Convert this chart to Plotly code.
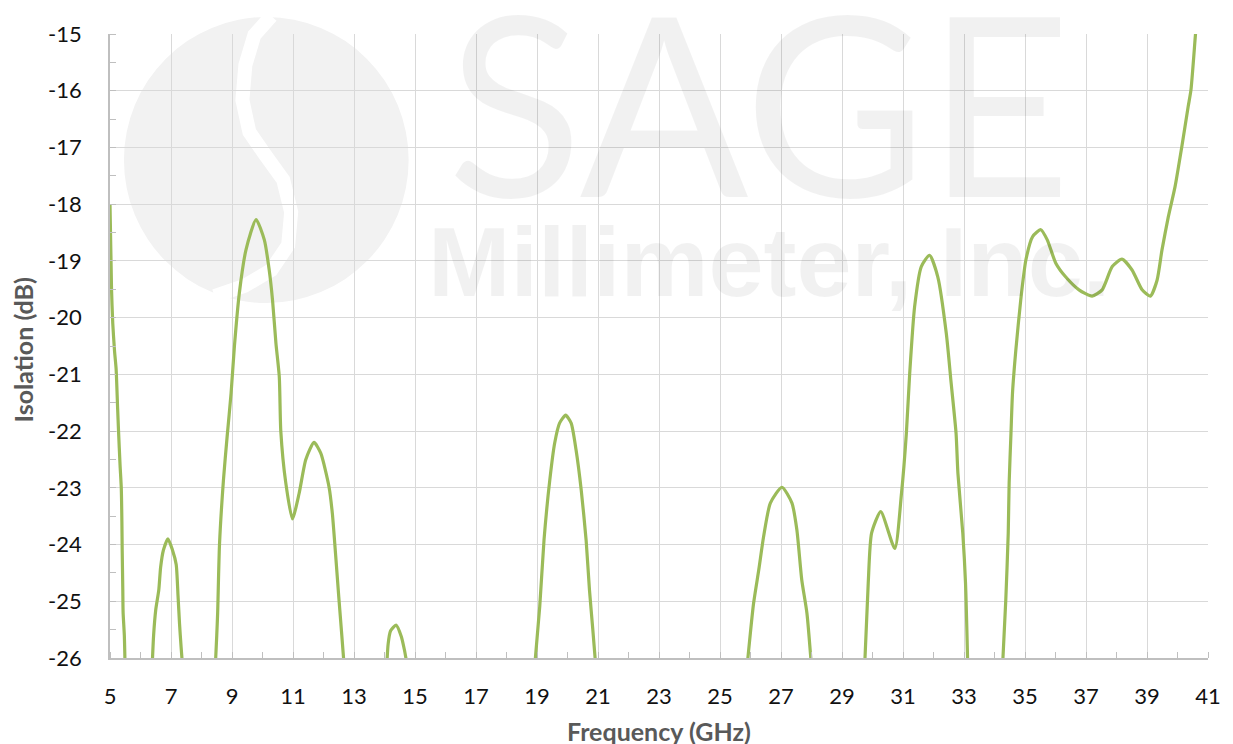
import plotly.graph_objects as go

# Measured isolation trace (None marks where the curve runs below the -26 dB floor)
freq_ghz = [
    5.0, 5.05, 5.09, 5.15, 5.2, 5.25, 5.28, 5.33, 5.37, 5.39, 5.4, 5.42, 5.43, 5.47, 5.5, None,
    6.37, 6.43, 6.5, 6.6, 6.66, 6.75, 6.9, 7.05, 7.17, 7.23, 7.28, 7.33, 7.4, None,
    8.44, 8.5, 8.53, 8.59, 8.72, 8.84, 8.97, 9.08, 9.24, 9.46, 9.79, 10.06, 10.22, 10.33, 10.44,
    10.55, 10.6, 10.76, 10.98, 11.2, 11.42, 11.69, 11.91, 12.18, 12.29, 12.4, 12.5, 12.6, 12.7, None,
    14.06, 14.12, 14.2, 14.38, 14.55, 14.65, 14.8, None,
    18.9, 19.09, 19.23, 19.42, 19.58, 19.74, 19.94, 20.12, 20.28, 20.45, 20.61, 20.72, 20.83, 20.95, None,
    25.86, 26.1, 26.27, 26.43, 26.65, 27.03, 27.36, 27.52, 27.68, 27.85, 28.02, None,
    29.73, 29.86, 29.97, 30.27, 30.73, 30.95, 31.11, 31.22, 31.38, 31.6, 31.87, 32.14, 32.42, 32.58,
    32.74, 32.8, 32.96, 33.05, 33.13, None,
    34.25, 34.37, 34.45, 34.48, 34.54, 34.59, 34.7, 34.86, 35.03, 35.25, 35.52, 35.73, 36.01, 36.33,
    36.77, 37.2, 37.53, 37.86, 38.18, 38.51, 38.84, 39.11, 39.33, 39.49, 39.7, 39.92, 40.14, 40.35,
    40.44, 40.59, 40.7,
]
isolation_db = [
    -18.0, -19.5, -20.1, -20.6, -20.9, -21.6, -22.0, -22.6, -23.0, -23.6, -24.1, -24.8, -25.2, -25.6, -26.3, None,
    -26.3, -25.6, -25.15, -24.8, -24.4, -24.1, -23.9, -24.1, -24.35, -24.9, -25.4, -25.8, -26.3, None,
    -26.3, -25.6, -25.2, -24.0, -22.86, -22.1, -21.33, -20.5, -19.57, -18.8, -18.27, -18.63, -19.16, -19.7, -20.45,
    -21.04, -22.0, -22.9, -23.55, -23.1, -22.5, -22.2, -22.39, -22.98, -23.45, -24.2, -24.92, -25.6, -26.3, None,
    -26.3, -25.75, -25.52, -25.42, -25.62, -25.85, -26.3, None,
    -26.3, -25.09, -23.92, -22.86, -22.21, -21.86, -21.72, -21.86, -22.33, -23.04, -23.92, -24.8, -25.5, -26.3, None,
    -26.3, -25.04, -24.45, -23.86, -23.27, -22.99, -23.27, -23.74, -24.62, -25.21, -26.3, None,
    -26.3, -24.68, -23.8, -23.42, -24.07, -23.1, -22.04, -20.98, -19.81, -19.1, -18.9, -19.28, -20.28, -21.16,
    -22.04, -22.74, -23.8, -24.68, -26.3, None,
    -26.3, -24.98, -23.8, -22.92, -22.04, -21.33, -20.57, -19.69, -18.98, -18.57, -18.45, -18.63, -19.04, -19.28,
    -19.51, -19.62, -19.51, -19.1, -18.97, -19.16, -19.51, -19.62, -19.34, -18.81, -18.22, -17.69, -16.99, -16.28,
    -15.99, -15.0, -14.3,
]

x_ticks = list(range(5, 42, 2))
x_ticktext = [str(v) for v in x_ticks]
y_ticks = list(range(-26, -14, 1))
y_ticktext = [str(v) for v in y_ticks]  # plain hyphen-minus, as in the reference

fig = go.Figure()
fig.add_trace(go.Scatter(
    x=freq_ghz, y=isolation_db, mode="lines",
    line=dict(color="#9BBB59", width=3.2, shape="spline", smoothing=0.6),
    connectgaps=False, showlegend=False, hoverinfo="skip",
))

# page pixel -> paper coords (plot area spans x 110..1213, y 34..658)
def px_to_paper(px, py):
    return (px - 110) / 1103.0, (658 - py) / 624.0

# Watermark logo (light grey disc with white S stroke)
x0, y0 = px_to_paper(124, 303)
x1, y1 = px_to_paper(410, 17)
shapes = [dict(type="circle", xref="paper", yref="paper", x0=x0, y0=y0, x1=x1, y1=y1,
               fillcolor="#f2f2f2", line=dict(width=0), layer="below")]
s_pts = [(272, 16), (255, 35), (246, 65), (243, 100), (250, 132), (266, 155), (284, 180),
         (292, 212), (289, 245), (272, 270), (245, 286), (215, 296)]
path = ""
for i, (px, py) in enumerate(s_pts):
    a, b = px_to_paper(px, py)
    path += ("M" if i == 0 else "L") + f"{a:.4f},{b:.4f} "
shapes.append(dict(type="path", xref="paper", yref="paper", path=path,
                   line=dict(color="white", width=14), layer="below"))

annotations = [
    dict(text="SAGE", xref="paper", yref="paper", x=px_to_paper(762, 0)[0], y=px_to_paper(0, 100)[1],
         xanchor="center", yanchor="middle", showarrow=False,
         font=dict(family="Lato", size=250, color="rgba(0,0,0,0.055)")),
    dict(text="Millimeter, Inc.", xref="paper", yref="paper", x=px_to_paper(772, 0)[0],
         y=px_to_paper(0, 261)[1], xanchor="center", yanchor="middle", showarrow=False,
         font=dict(family="Liberation Sans", size=99, weight="bold", color="rgba(0,0,0,0.055)")),
    dict(text="Frequency (GHz)", xref="paper", yref="paper", x=0.5,
         y=px_to_paper(0, 731)[1], xanchor="center", yanchor="middle", showarrow=False,
         font=dict(family="Lato", size=25, weight="bold", color="#595959")),
    dict(text="Isolation (dB)", xref="paper", yref="paper", x=px_to_paper(23, 0)[0],
         y=px_to_paper(0, 350)[1], xanchor="center", yanchor="middle", showarrow=False,
         textangle=-90,
         font=dict(family="Lato", size=25, weight="bold", color="#595959")),
]

fig.update_layout(
    width=1233, height=744,
    margin=dict(l=110, r=20, t=34, b=86),
    paper_bgcolor="white", plot_bgcolor="white",
    shapes=shapes, annotations=annotations,
    font=dict(family="Lato", size=22, color="#111111"),
)
fig.update_xaxes(
    range=[5, 41], tickvals=x_ticks, ticktext=x_ticktext,
    showgrid=True, gridcolor="#d9d9d9", gridwidth=1.3,
    showline=True, linecolor="#bfbfbf", linewidth=1.8, ticks="", ticklabelstandoff=18,
    minor=dict(dtick=1, ticks="inside", ticklen=6, tickcolor="#bfbfbf", showgrid=False),
    zeroline=False, fixedrange=True,
)
fig.update_yaxes(
    range=[-26, -15], tickvals=y_ticks, ticktext=y_ticktext,
    showgrid=True, gridcolor="#d9d9d9", gridwidth=1.3,
    showline=True, linecolor="#bfbfbf", linewidth=1.8, ticks="", ticklabelstandoff=22,
    minor=dict(dtick=0.5, ticks="inside", ticklen=6, tickcolor="#bfbfbf", showgrid=False),
    zeroline=False, fixedrange=True,
)

# remove the default 8 px page margin so the 1233x744 figure fills the window exactly
fig.write_html("out.html", config={"displayModeBar": False},
               post_script="document.body.style.margin='0';document.body.style.overflow='hidden';")
